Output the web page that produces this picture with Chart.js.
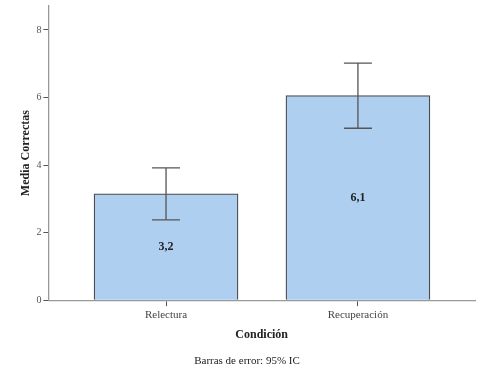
<!DOCTYPE html>
<html>
<head>
<meta charset="utf-8">
<script src="https://cdn.jsdelivr.net/npm/chart.js@4"></script>
<style>
  html, body { margin: 0; padding: 0; background: #fff; }
  #wrap { width: 490px; height: 372px; }
</style>
</head>
<body>
<div id="wrap"><canvas id="myChart"></canvas></div>
<script>
const categories = ['Relectura', 'Recuperación'];
const means = [3.15, 6.06];
const ciLower = [2.38, 5.09];
const ciUpper = [3.92, 7.02];
const meanLabels = ['3,2', '6,1'];
const yTicks = [0, 2, 4, 6, 8];

const serif = "'Liberation Serif', 'Times New Roman', serif";

// error bars + values inside bars
const extras = {
    id: 'extras',
    afterDatasetsDraw(chart) {
        const ctx = chart.ctx;
        const x = chart.scales.x, y = chart.scales.y;
        ctx.save();
        ctx.strokeStyle = '#555';
        ctx.lineWidth = 1.3;
        for (let i = 0; i < means.length; i++) {
            const px = x.getPixelForValue(i);
            const lo = y.getPixelForValue(ciLower[i]);
            const hi = y.getPixelForValue(ciUpper[i]);
            ctx.beginPath();
            ctx.moveTo(px, lo); ctx.lineTo(px, hi);
            ctx.moveTo(px - 14, lo); ctx.lineTo(px + 14, lo);
            ctx.moveTo(px - 14, hi); ctx.lineTo(px + 14, hi);
            ctx.stroke();
            ctx.fillStyle = '#222';
            ctx.font = 'bold 12px ' + serif;
            ctx.textAlign = 'center';
            ctx.textBaseline = 'middle';
            ctx.fillText(meanLabels[i], px, y.getPixelForValue(means[i] / 2));
        }
        ctx.restore();
    }
};

new Chart(document.getElementById('myChart'), {
    type: 'bar',
    data: {
        datasets: [{
            data: means.map((v, i) => ({x: i, y: v})),
            backgroundColor: '#aecff0',
            borderColor: '#4d4d4d',
            borderWidth: 1.3,
            barThickness: 144,
            grouped: false
        }]
    },
    options: {
        responsive: true,
        maintainAspectRatio: false,
        animation: false,
        layout: { padding: { left: 19, right: 15, top: 0, bottom: 0 } },
        plugins: {
            legend: { display: false },
            tooltip: { enabled: false },
            title: {
                display: true,
                position: 'bottom',
                text: 'Barras de error: 95% IC',
                color: '#222',
                font: { family: serif, size: 11, weight: 'normal' },
                padding: { top: 13, bottom: 4 }
            }
        },
        scales: {
            x: {
                type: 'linear',
                offset: false,
                min: -0.613,
                max: 1.61,
                afterBuildTicks: (s) => { s.ticks = categories.map((c, i) => ({value: i})); },
                ticks: {
                    callback: (v) => categories[v],
                    color: '#444',
                    font: { family: serif, size: 11 },
                    padding: 2,
                    maxRotation: 0
                },
                grid: { offset: false, drawOnChartArea: false, tickLength: 6, color: '#555' },
                border: { color: '#999', width: 1.3 },
                title: {
                    display: true,
                    text: 'Condición',
                    color: '#222',
                    font: { family: serif, size: 12, weight: 'bold' },
                    padding: { top: 4, bottom: 0 }
                }
            },
            y: {
                min: 0,
                max: 8.71,
                afterBuildTicks: (s) => { s.ticks = yTicks.map(v => ({value: v})); },
                ticks: {
                    color: '#555',
                    font: { family: serif, size: 10, lineHeight: 0.8 },
                    padding: 2
                },
                grid: { drawOnChartArea: false, tickLength: 5, color: '#555' },
                border: { color: '#999', width: 1.3 },
                title: {
                    display: true,
                    text: 'Media Correctas',
                    color: '#222',
                    font: { family: serif, size: 12, weight: 'bold' },
                    padding: { top: 0, bottom: 1 }
                }
            }
        }
    },
    plugins: [extras]
});
</script>
</body>
</html>
